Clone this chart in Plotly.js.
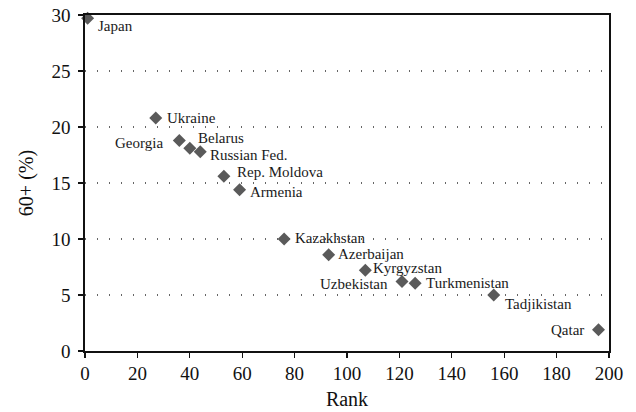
<!DOCTYPE html>
<html><head><meta charset="utf-8">
<script src="https://cdn.plot.ly/plotly-3.0.1.min.js"></script>
<style>body{margin:0;}#c{width:636px;height:412px;}</style>
</head><body><div id="c"></div>
<script>
const countries = ["Japan","Ukraine","Georgia","Belarus","Russian Fed.","Rep. Moldova","Armenia","Kazakhstan","Azerbaijan","Kyrgyzstan","Uzbekistan","Turkmenistan","Tadjikistan","Qatar"];
const rank = [1,27,36,40,44,53,59,76,93,107,121,126,156,196];
const pct60 = [29.7,20.8,18.8,18.1,17.8,15.6,14.4,10.0,8.6,7.2,6.2,6.05,5.0,1.9];
// label placement (pixels relative to marker)
const labelSide = ["left","left","right","left","left","left","left","left","left","left","right","left","left","right"];
const labelDx = [8,9,-14,6,8,11,8,9,7,6,-12,9,9,-13];
const labelDy = [-8,0,-3,10,-3,4,-2,1,1,2,-2,0,-9,0];

const serif = "Liberation Serif, DejaVu Serif, serif";
const annotations = countries.map((c, i) => ({
  x: rank[i], y: pct60[i], xref: "x", yref: "y", text: c, showarrow: false,
  xanchor: labelSide[i], yanchor: "middle", xshift: labelDx[i], yshift: labelDy[i],
  font: {family: serif, size: 15, color: "#1a1a1a"}
}));

Plotly.newPlot("c", [{
  x: rank, y: pct60, mode: "markers", type: "scatter",
  marker: {symbol: "diamond", size: 10, color: "#5a5a5a"},
  cliponaxis: false, hoverinfo: "none"
}], {
  width: 636, height: 412,
  margin: {l: 85, r: 27, t: 15, b: 61},
  paper_bgcolor: "#fff", plot_bgcolor: "#fff",
  showlegend: false,
  font: {family: serif, color: "#111"},
  annotations: annotations,
  xaxis: {
    range: [0, 200], tickvals: [0,20,40,60,80,100,120,140,160,180,200],
    showgrid: false, zeroline: false,
    showline: true, linecolor: "#111", linewidth: 1.6, mirror: true,
    ticks: "outside", ticklen: 5, tickcolor: "#111", tickwidth: 1.2,
    tickfont: {family: serif, size: 19, color: "#111"},
    title: {text: "Rank", font: {family: serif, size: 20, color: "#111"}, standoff: 8}
  },
  yaxis: {
    range: [0, 30], tickvals: [0,5,10,15,20,25,30],
    showgrid: true, gridcolor: "#666", gridwidth: 1.2, griddash: "1.2px,10.8px",
    zeroline: false,
    showline: true, linecolor: "#111", linewidth: 1.6, mirror: true,
    ticks: "outside", ticklen: 5, tickcolor: "#111", tickwidth: 1.2,
    ticklabelstandoff: 4,
    tickfont: {family: serif, size: 19, color: "#111"},
    title: {text: "60+ (%)", font: {family: serif, size: 20, color: "#111"}, standoff: 12}
  }
}, {staticPlot: true});
</script></body></html>
